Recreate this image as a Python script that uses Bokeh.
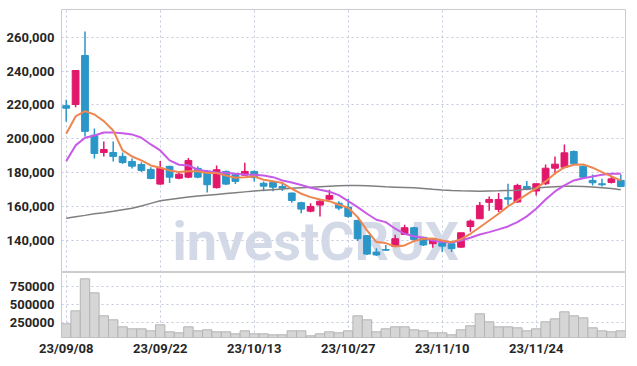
from bokeh.plotting import figure
from bokeh.layouts import column
from bokeh.models import ColumnDataSource, FixedTicker, Range1d, Label, NumeralTickFormatter
from bokeh.embed import file_html
from bokeh.resources import INLINE

dates = ["23/09/08", "23/09/11", "23/09/12", "23/09/13", "23/09/14", "23/09/15",
         "23/09/18", "23/09/19", "23/09/20", "23/09/21", "23/09/22",
         "23/09/25", "23/09/26", "23/09/27", "23/10/04", "23/10/05", "23/10/06",
         "23/10/10", "23/10/11", "23/10/12", "23/10/13",
         "23/10/16", "23/10/17", "23/10/18", "23/10/19", "23/10/20",
         "23/10/23", "23/10/24", "23/10/25", "23/10/26", "23/10/27",
         "23/10/30", "23/10/31", "23/11/01", "23/11/02", "23/11/03",
         "23/11/06", "23/11/07", "23/11/08", "23/11/09", "23/11/10",
         "23/11/13", "23/11/14", "23/11/15", "23/11/16", "23/11/17",
         "23/11/20", "23/11/21", "23/11/22", "23/11/23", "23/11/24",
         "23/11/27", "23/11/28", "23/11/29", "23/11/30", "23/12/01",
         "23/12/04", "23/12/05", "23/12/06", "23/12/07"]

opens = [219500, 220200, 249200, 202000, 191800, 191800, 189500, 186500, 184700, 181800,
         173100, 183600, 176600, 177200, 182400, 180800, 171000, 180600, 178600, 178400,
         180600, 173600, 174100, 171700, 167800, 162100, 157100, 160700, 164200, 161800,
         159500, 151600, 142600, 132900, 134400, 136200, 143300, 147300, 141600, 137800,
         138400, 137800, 135800, 148000, 152600, 162300, 158100, 165000, 162500, 171700,
         169000, 173300, 182500, 183100, 192400, 183700, 175300, 173300, 174100, 175300]
highs = [223000, 240300, 263400, 206000, 198300, 198300, 191800, 188300, 186000, 183000,
         186700, 184000, 180000, 188500, 183600, 181500, 184100, 181200, 179500, 185700,
         181200, 174700, 174700, 173300, 168200, 162700, 161800, 163500, 169800, 162900,
         164400, 152000, 143000, 135200, 137000, 143100, 149100, 147800, 142000, 141200,
         139000, 138200, 144300, 152200, 162500, 165800, 167800, 173300, 173300, 175000,
         173500, 184700, 189500, 196600, 193000, 184000, 178800, 176200, 178200, 178800]
lows = [210000, 218500, 201300, 188300, 189500, 186500, 185000, 182400, 180200, 176000,
        172700, 173700, 176000, 176600, 176600, 168200, 170500, 172500, 173100, 178000,
        174700, 168800, 168800, 169000, 162100, 155800, 156500, 153900, 163600, 157700,
        153200, 139400, 131100, 130600, 133500, 136000, 143000, 139400, 136500, 135400,
        133000, 133000, 135500, 144900, 152400, 157400, 156600, 160700, 162000, 169500,
        166300, 172500, 178800, 182500, 184800, 176200, 172300, 171700, 173500, 171300]
closes = [218000, 240300, 204300, 191200, 193600, 189500, 185900, 183700, 181200, 176400,
          182500, 177200, 179000, 187100, 177200, 172700, 181600, 173100, 174700, 180600,
          176900, 171900, 171300, 170700, 163400, 158300, 159900, 163000, 166400, 158900,
          154000, 140800, 131700, 131200, 134000, 140800, 147300, 140400, 137100, 140800,
          136400, 134900, 144300, 151200, 160500, 164000, 164000, 164200, 172300, 169900,
          173300, 182500, 184900, 191600, 185100, 177200, 173900, 172700, 176200, 171700]
volumes = [227600, 409600, 857600, 661600, 339600, 283600, 185600, 157600, 157600, 129600,
           213600, 115600, 101600, 185600, 129600, 143600, 115600, 115600, 87600, 129600,
           87600, 87600, 73600, 73600, 129600, 129600, 59600, 87600, 115600, 101600,
           129600, 339600, 283600, 115600, 157600, 185600, 185600, 143600, 129600, 101600,
           101600, 73600, 143600, 199600, 367600, 255600, 185600, 185600, 171600, 129600,
           157600, 255600, 297600, 395600, 339600, 311600, 171600, 129600, 115600, 129600]
ma_short = [202900, 213100, 216300, 214300, 210350, 204850, 193000, 189450, 187100, 184150,
            182800, 181200, 180200, 180750, 180750, 179600, 179600, 178200, 176850, 177200,
            177650, 175700, 174850, 173700, 170350, 167400, 165400, 164000, 163000, 160900,
            159100, 153550, 145700, 138800, 138200, 136200, 136800, 139350, 140750, 140950,
            139750, 138750, 140500, 143700, 147600, 151600, 155550, 159900, 163400, 167000,
            170550, 174700, 179400, 182950, 184550, 184750, 182800, 180200, 177650, 175300]
ma_mid = [186700, 196000, 200550, 201900, 203650, 203650, 203250, 202500, 200550, 196550,
          193000, 187100, 184550, 184150, 181600, 180750, 180000, 179800, 179250, 178800,
          178650, 178200, 177200, 175250, 174100, 172600, 170950, 169750, 168600, 166550,
          163000, 159500, 155550, 152000, 150600, 146700, 143700, 142300, 141350, 139750,
          139000, 138600, 139750, 141350, 143300, 144700, 146300, 148050, 150600, 154000,
          158550, 164000, 168750, 172300, 175250, 176600, 177650, 178650, 179250, 179250]
ma_long = [152900, 153800, 154600, 155500, 156200, 157000, 157900, 158800, 160200, 161700,
           163200, 164000, 164700, 165400, 166000, 166500, 167000, 167500, 168000, 168500,
           169000, 169400, 169800, 170200, 170600, 170900, 171200, 171600, 171900, 172100,
           172300, 172300, 172100, 171800, 171500, 171300, 171100, 170900, 170500, 170000,
           169600, 169300, 169100, 169000, 168900, 169000, 169100, 169300, 169500, 170200,
           170800, 171300, 171600, 171800, 171800, 171700, 171400, 171000, 170500, 169800]
price_ticks = [140000, 160000, 180000, 200000, 220000, 240000, 260000]
volume_ticks = [250000, 500000, 750000]
date_tick_idx = [0, 10, 20, 30, 40, 50]

UP = "#e2176b"
DOWN = "#2b96c8"
FONT = "Roboto"
GRID = "#c3c9dd"

idx = list(range(len(dates)))
colors = [UP if c >= o else DOWN for o, c in zip(opens, closes)]
src = ColumnDataSource(dict(
    x=idx, o=opens, h=highs, l=lows, c=closes, v=volumes,
    top=[max(o, c) for o, c in zip(opens, closes)],
    bot=[min(o, c) for o, c in zip(opens, closes)],
    color=colors, m1=ma_short, m2=ma_mid, m3=ma_long,
))

xr = Range1d(-0.5, 59.5)
yr = Range1d(120800, 276400)


def style_axis(ax, standoff):
    ax.major_label_text_font = FONT
    ax.major_label_text_font_size = "13px"
    ax.major_label_text_font_style = "bold"
    ax.major_label_text_color = "#262626"
    ax.axis_line_color = None
    ax.major_tick_line_color = None
    ax.minor_tick_line_color = None
    ax.major_tick_out = 0
    ax.major_tick_in = 0
    ax.minor_tick_out = 0
    ax.major_label_standoff = standoff


p = figure(frame_width=564, frame_height=263, x_range=xr, y_range=yr,
           output_backend="svg", toolbar_location=None,
           min_border_left=61, min_border_right=2, min_border_top=9, min_border_bottom=0)
p.xaxis.visible = False
p.yaxis.ticker = FixedTicker(ticks=price_ticks)
p.yaxis.formatter = NumeralTickFormatter(format="0,0")
style_axis(p.yaxis[0], 7)
p.xgrid.ticker = FixedTicker(ticks=date_tick_idx)
p.grid.grid_line_color = GRID
p.grid.grid_line_dash = "2 3"
p.grid.grid_line_width = 1
p.outline_line_color = "#cccccc"

# watermark behind the candles, placed in screen units from the frame's lower-left corner
wm = Label(x=111, y=0, x_units="screen", y_units="screen", text="investCRUX",
           text_font=FONT, text_font_size="54px", text_font_style="bold",
           text_color="#cfd5e6", text_alpha=0.9, text_baseline="bottom",
           level="underlay")
p.add_layout(wm)

p.segment(x0="x", x1="x", y0="l", y1="h", color="color", line_width=1.5, source=src)
p.vbar(x="x", width=0.72, top="top", bottom="bot", fill_color="color",
       line_color="color", source=src)
p.line(x="x", y="m3", color="#7f7f7f", line_width=1.5, source=src)
p.line(x="x", y="m2", color="#c85ae8", line_width=2, source=src)
p.line(x="x", y="m1", color="#ee8650", line_width=2, source=src)

q = figure(frame_width=564, frame_height=65, x_range=xr, y_range=Range1d(36000, 946000),
           output_backend="svg", toolbar_location=None,
           min_border_left=61, min_border_right=2, min_border_top=0, min_border_bottom=0)
q.vbar(x="x", width=1.0, top="v", bottom=0, fill_color="#d6d6d6",
       line_color="#b4b4b4", line_width=1, source=src)
q.yaxis.ticker = FixedTicker(ticks=volume_ticks)
q.yaxis.formatter = NumeralTickFormatter(format="0")
q.xaxis.ticker = FixedTicker(ticks=date_tick_idx)
q.xaxis.major_label_overrides = {i: dates[i] for i in date_tick_idx}
style_axis(q.yaxis[0], 7)
style_axis(q.xaxis[0], 3)
q.grid.grid_line_color = GRID
q.grid.grid_line_dash = "2 3"
q.xgrid.ticker = FixedTicker(ticks=date_tick_idx)
q.outline_line_color = "#cccccc"

layout = column(p, q, spacing=0)
open("out.html", "w").write(file_html(layout, INLINE))
